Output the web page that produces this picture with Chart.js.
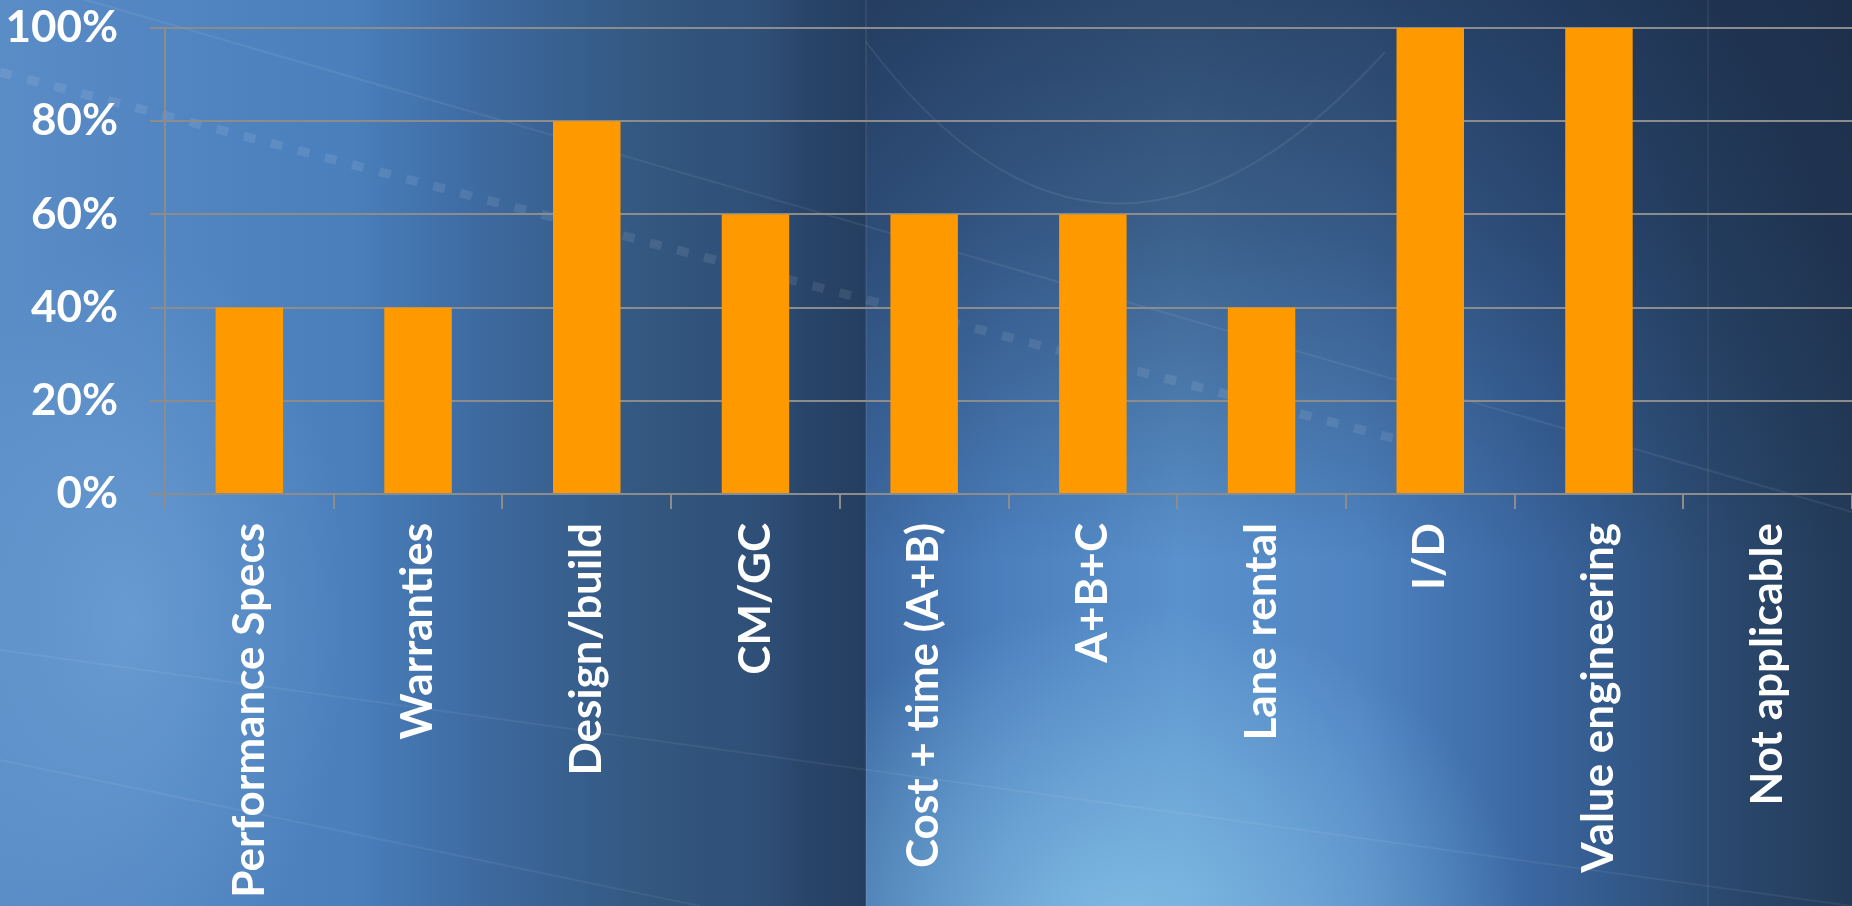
<!DOCTYPE html>
<html>
<head>
<meta charset="utf-8">
<script src="https://cdn.jsdelivr.net/npm/chart.js@4.4.1/dist/chart.umd.min.js"></script>
<style>
  html, body { margin: 0; padding: 0; overflow: hidden; background: #2a4568; }
  #stage { position: relative; width: 1852px; height: 906px; overflow: hidden; }
  #bgLeft, #bgRight, #deco, #chart { position: absolute; top: 0; }
  #bgLeft {
    left: 0; width: 866px; height: 906px;
    background:
      radial-gradient(ellipse 220px 380px at 130px 620px, rgba(128,178,226,0.45), rgba(128,178,226,0) 100%),
      linear-gradient(to right, #5a8cc6 0px, #4f83bf 236px, #4a7fbb 354px, #3e6ba2 472px, #33577f 650px, #2e4e76 768px, #29456a 803px, #253e60 866px);
  }
  #bgRight {
    left: 866px; width: 986px; height: 906px;
    background:
      radial-gradient(ellipse 400px 330px at 260px 935px, rgba(132,192,230,0.9), rgba(132,192,230,0) 100%),
      linear-gradient(to bottom, rgba(26,42,68,0.7) 0%, rgba(26,42,68,0.48) 25%, rgba(26,42,68,0) 62%),
      linear-gradient(to right, #3d6aa3 0px, #4b7fbd 138px, #5a92cc 314px, #4f84c2 492px, #3a66a0 669px, #2b4a70 846px, #233a58 986px);
  }
  #deco, #chart { left: 0; }
</style>
</head>
<body>
<div id="stage">
  <div id="bgLeft"></div>
  <div id="bgRight"></div>
  <svg id="deco" width="1852" height="906" viewBox="0 0 1852 906">
    <g fill="none" stroke="#ffffff">
      <line x1="0" y1="72" x2="1400" y2="440" stroke-opacity="0.09" stroke-width="9" stroke-dasharray="12 16"/>
      <line x1="0" y1="-25" x2="1852" y2="512" stroke-opacity="0.07" stroke-width="2"/>
      <line x1="0" y1="650" x2="1852" y2="906" stroke-opacity="0.06" stroke-width="2"/>
      <line x1="0" y1="760" x2="700" y2="906" stroke-opacity="0.06" stroke-width="2"/>
      <path d="M 866 42 Q 1105 360 1385 52" stroke-opacity="0.08" stroke-width="2"/>
      <line x1="866" y1="0" x2="866" y2="906" stroke-opacity="0.07" stroke-width="2"/>
      <line x1="1708" y1="0" x2="1708" y2="906" stroke-opacity="0.06" stroke-width="2"/>
    </g>
  </svg>
  <canvas id="chart" width="1852" height="906"></canvas>
</div>
<script>
// Contracting methods and the share of respondents using each one (%)
const categories = [
  'Performance Specs',
  'Warranties',
  'Design/build',
  'CM/GC',
  'Cost + time (A+B)',
  'A+B+C',
  'Lane rental',
  'I/D',
  'Value engineering',
  'Not applicable'
];
const shares = [40, 40, 80, 60, 60, 60, 40, 100, 100, 0];
const yTickValues = [0, 20, 40, 60, 80, 100];
const yTickLabels = ['0%', '20%', '40%', '60%', '80%', '100%'];

const FONT = 'Lato';
const axisGrey = '#8c8c8c';

function draw() {
  new Chart(document.getElementById('chart'), {
    type: 'bar',
    data: {
      labels: categories,
      datasets: [{
        data: shares,
        backgroundColor: '#ff9900',
        borderWidth: 0,
        categoryPercentage: 1,
        barPercentage: 0.4
      }]
    },
    options: {
      responsive: false,
      animation: false,
      events: [],
      layout: { padding: { top: 28, left: 0, right: 0, bottom: 0 } },
      plugins: { legend: { display: false }, tooltip: { enabled: false } },
      scales: {
        x: {
          grid: {
            display: true,
            drawOnChartArea: false,
            drawTicks: true,
            tickLength: 15,
            color: axisGrey,
            lineWidth: 2
          },
          border: { display: true, color: axisGrey, width: 2 },
          ticks: {
            color: '#ffffff',
            font: { family: FONT, weight: 'bold', size: 44 },
            minRotation: 90,
            maxRotation: 90,
            autoSkip: false,
            padding: 14
          },
          afterFit(scale) { scale.height = 412; }
        },
        y: {
          min: 0,
          max: 100,
          afterBuildTicks(scale) {
            scale.ticks = yTickValues.map(v => ({ value: v }));
          },
          grid: {
            color: axisGrey,
            lineWidth: 2,
            drawTicks: true,
            tickLength: 15
          },
          border: { display: true, color: axisGrey, width: 2 },
          ticks: {
            color: '#ffffff',
            font: { family: FONT, weight: 'bold', size: 44 },
            padding: 32,
            callback(value) {
              const i = yTickValues.indexOf(value);
              return i >= 0 ? yTickLabels[i] : '';
            }
          },
          afterFit(scale) {
            scale.width = 165;
            // labels may overhang the plot edges; keep the plot area fixed
            scale.paddingTop = 0;
            scale.paddingBottom = 0;
          }
        }
      }
    }
  });
}

if (document.fonts && document.fonts.load) {
  document.fonts.load('bold 44px ' + FONT).then(draw, draw);
} else {
  draw();
}
</script>
</body>
</html>
